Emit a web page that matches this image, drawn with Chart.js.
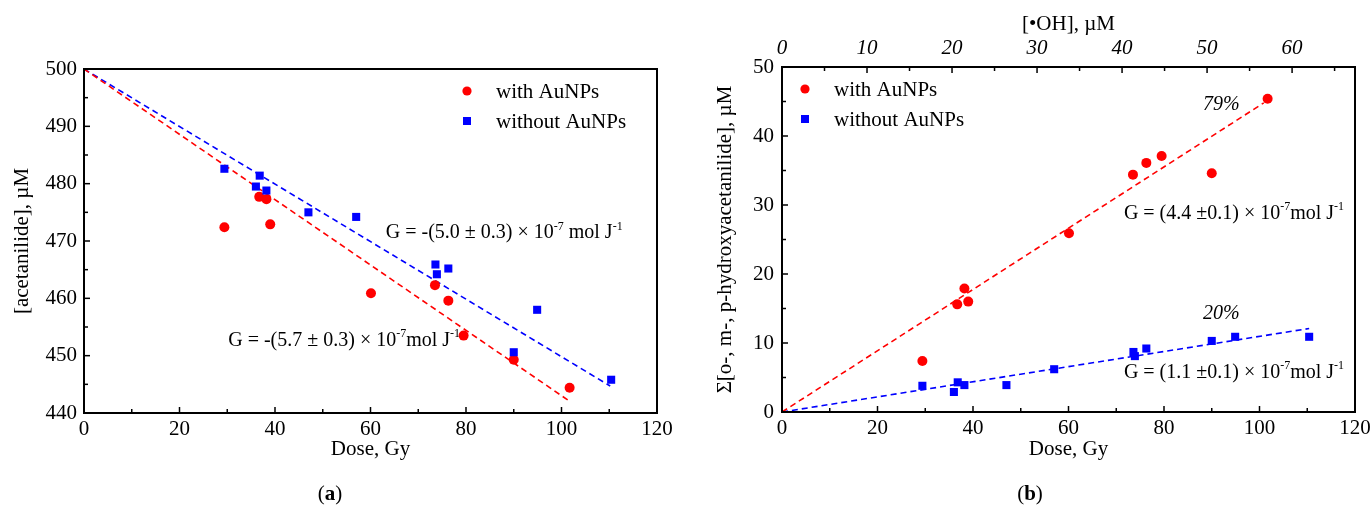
<!DOCTYPE html>
<html><head><meta charset="utf-8">
<script src="https://cdn.jsdelivr.net/npm/chart.js@4.4.1/dist/chart.umd.min.js"></script>
<style>
html,body{margin:0;padding:0;background:#fff}
body{width:1370px;height:514px;position:relative;overflow:hidden}
#ca{position:absolute;left:0;top:0}
#cb{position:absolute;left:690px;top:0}
.cap{position:absolute;top:481px;width:100px;text-align:center;font:21px 'Liberation Serif',serif;color:#000}
</style></head>
<body>
<canvas id="ca" width="690" height="514"></canvas>
<canvas id="cb" width="700" height="514"></canvas>
<div class="cap" style="left:280px">(<b>a</b>)</div>
<div class="cap" style="left:980px">(<b>b</b>)</div>
<script>
// ---------------- data ----------------
const doseWith    = [29.4, 36.7, 38.2, 39.0, 60.1, 73.5, 76.3, 79.5, 90.0, 101.7];
const acetWith    = [472.4, 477.7, 477.3, 472.9, 460.9, 462.3, 459.6, 453.5, 449.3, 444.4];
const hydrWith    = [7.4, 15.6, 17.9, 16.0, 25.9, 34.4, 36.1, 37.1, 34.6, 45.4];

const doseWithout = [29.4, 36.0, 36.8, 38.2, 47.0, 57.0, 73.6, 73.9, 76.3, 90.0, 94.9, 110.4];
const acetWithout = [482.6, 479.5, 481.4, 478.8, 475.0, 474.2, 465.9, 464.2, 465.2, 450.6, 458.0, 445.8];
const hydrWithout = [3.8, 2.9, 4.3, 3.9, 3.9, 6.2, 8.7, 8.1, 9.2, 10.3, 10.9, 10.9];

// linear fits (end points)
const fitDoseWithA    = [0, 101.8];
const fitAcetWith     = [500, 442.0];
const fitDoseWithoutA = [0, 110.2];
const fitAcetWithout  = [500, 444.7];
const fitDoseWithB    = [0, 100.9];
const fitHydrWith     = [0, 44.8];
const fitDoseWithoutB = [0, 110.4];
const fitHydrWithout  = [0, 12.1];

// axes
const doseRange = [0, 120];
const acetRange = [440, 500];
const hydrRange = [0, 50];
const ohRange   = [0, 67.4];   // [•OH] µM corresponding to 0..120 Gy
const ohTicks   = [0, 10, 20, 30, 40, 50, 60];
const ohTickStep = 10;

const labelWith = 'with AuNPs';
const labelWithout = 'without AuNPs';

const annA = [
  {x: 63.2, y: 471.6, parts: [['G = -(5.0 \u00b1 0.3) \u00d7 10'], ['-7', 1], [' mol J'], ['-1', 1]]},
  {x: 30.2, y: 452.9, parts: [['G = -(5.7 \u00b1 0.3) \u00d7 10'], ['-7', 1], ['mol J'], ['-1', 1]]}
];
const annB = [
  {x: 71.6, y: 29.0, parts: [['G = (4.4 \u00b10.1) \u00d7 10'], ['-7', 1], ['mol J'], ['-1', 1]]},
  {x: 71.6, y: 5.9,  parts: [['G = (1.1 \u00b10.1) \u00d7 10'], ['-7', 1], ['mol J'], ['-1', 1]]},
  {x: 92.0, y: 44.7, parts: [['79%']], italic: true, center: true},
  {x: 92.0, y: 14.4, parts: [['20%']], italic: true, center: true}
];

// ---------------- helpers ----------------
const FAM = "'Liberation Serif', serif";
const RED = '#ff0000', BLUE = '#0000ff';
Chart.defaults.font.family = FAM;
Chart.defaults.font.size = 21;
Chart.defaults.color = '#000';

const pts = (xs, ys) => xs.map((x, i) => ({x, y: ys[i]}));
const isMultiple = (v, step) => Math.abs(v / step - Math.round(v / step)) < 1e-6;

function richText(ctx, x, yc, parts, size, italic, center) {
  const st = italic ? 'italic ' : '';
  let w = 0;
  parts.forEach(p => {
    ctx.font = st + (p[1] ? Math.round(size * 0.62) : size) + 'px ' + FAM;
    w += ctx.measureText(p[0]).width;
  });
  let cx = center ? x - w / 2 : x;
  const base = yc + size * 0.33;
  ctx.textAlign = 'left';
  ctx.textBaseline = 'alphabetic';
  ctx.fillStyle = '#000';
  parts.forEach(p => {
    ctx.font = st + (p[1] ? Math.round(size * 0.62) : size) + 'px ' + FAM;
    ctx.fillText(p[0], cx, p[1] ? base - size * 0.42 : base);
    cx += ctx.measureText(p[0]).width;
  });
}

const framePlugin = {
  id: 'frame',
  afterDraw(chart, args, opts) {
    const ctx = chart.ctx, a = chart.chartArea;
    ctx.save();
    ctx.strokeStyle = '#000';
    ctx.lineWidth = 2;
    ctx.strokeRect(a.left, a.top, a.right - a.left, a.bottom - a.top);
    ctx.lineWidth = 1.5;
    (opts.tickAxes || []).forEach(id => {
      const s = chart.scales[id];
      const step = s.options.ticks.stepSize;
      for (let i = 1; s.min + i * step / 2 < s.max - 1e-9; i++) {
        const v = s.min + i * step / 2;
        const len = isMultiple(v, step) ? 6 : 4;
        const p = s.getPixelForValue(v);
        ctx.beginPath();
        if (s.position === 'bottom') { ctx.moveTo(p, a.bottom); ctx.lineTo(p, a.bottom - len); }
        else if (s.position === 'top') { ctx.moveTo(p, a.top); ctx.lineTo(p, a.top + len); }
        else { ctx.moveTo(a.left, p); ctx.lineTo(a.left + len, p); }
        ctx.stroke();
      }
    });
    // annotations
    const xs = chart.scales.x, ys = chart.scales.y;
    (opts.ann || []).forEach(an => {
      richText(ctx, xs.getPixelForValue(an.x), ys.getPixelForValue(an.y), an.parts, 20, an.italic, an.center);
    });
    // legend
    const lg = opts.legend;
    if (lg) {
      const mx = a.left + lg.dx, my = a.top + lg.dy;
      chart.data.datasets.filter(d => d.legend).forEach((d, i) => {
        const y = my + i * 30;
        ctx.fillStyle = d.backgroundColor;
        if (d.pointStyle === 'rect') ctx.fillRect(mx - 4, y - 4, 8, 8);
        else { ctx.beginPath(); ctx.arc(mx, y, 4.6, 0, Math.PI * 2); ctx.fill(); }
        ctx.fillStyle = '#000';
        ctx.font = '21px ' + FAM;
        ctx.textAlign = 'left';
        ctx.textBaseline = 'alphabetic';
        ctx.fillText(d.label, mx + 29, y + 7);
      });
    }
    ctx.restore();
  }
};

function pointSet(label, data, color, style, order) {
  return {label, data, legend: true, backgroundColor: color, borderColor: color, borderWidth: 0,
    pointStyle: style, pointRadius: style === 'rect' ? 5.7 : 5, pointHoverRadius: 5, order, showLine: false};
}
function fitSet(data, color) {
  return {data, borderColor: color, backgroundColor: color, borderWidth: 1.6, borderDash: [6, 4],
    pointRadius: 0, showLine: true, order: 3};
}
function baseAxis(extra) {
  return Object.assign({
    type: 'linear',
    grid: {display: false, drawTicks: false},
    border: {display: false},
  }, extra);
}

// ---------------- chart (a) ----------------
new Chart(document.getElementById('ca'), {
  type: 'scatter',
  data: {datasets: [
    pointSet(labelWith, pts(doseWith, acetWith), RED, 'circle', 2),
    pointSet(labelWithout, pts(doseWithout, acetWithout), BLUE, 'rect', 1),
    fitSet(pts(fitDoseWithA, fitAcetWith), RED),
    fitSet(pts(fitDoseWithoutA, fitAcetWithout), BLUE)
  ]},
  options: {
    responsive: false, animation: false,
    layout: {padding: {left: 0, right: 33, top: 69, bottom: 0}},
    plugins: {legend: {display: false}, tooltip: {enabled: false},
      frame: {tickAxes: ['x', 'y'], ann: annA, legend: {dx: 383, dy: 22}}},
    scales: {
      x: baseAxis({position: 'bottom', min: doseRange[0], max: doseRange[1],
        ticks: {stepSize: 20, padding: 4, maxRotation: 0},
        title: {display: true, text: 'Dose, Gy', padding: {top: 0, bottom: 52}},
        afterFit(s) { s.height = 101; }}),
      y: baseAxis({position: 'left', min: acetRange[0], max: acetRange[1],
        ticks: {stepSize: 10, padding: 7},
        title: {display: true, text: '[acetanilide], \u00b5M', padding: {top: 10, bottom: 0}},
        afterFit(s) { s.width = 84; }})
    }
  },
  plugins: [framePlugin]
});

// ---------------- chart (b) ----------------
new Chart(document.getElementById('cb'), {
  type: 'scatter',
  data: {datasets: [
    pointSet(labelWith, pts(doseWith, hydrWith), RED, 'circle', 2),
    pointSet(labelWithout, pts(doseWithout, hydrWithout), BLUE, 'rect', 1),
    fitSet(pts(fitDoseWithB, fitHydrWith), RED),
    fitSet(pts(fitDoseWithoutB, fitHydrWithout), BLUE)
  ]},
  options: {
    responsive: false, animation: false,
    layout: {padding: {left: 0, right: 35, top: 0, bottom: 0}},
    plugins: {legend: {display: false}, tooltip: {enabled: false},
      frame: {tickAxes: ['x', 'y', 'x2'], ann: annB, legend: {dx: 23, dy: 22}}},
    scales: {
      x: baseAxis({position: 'bottom', min: doseRange[0], max: doseRange[1],
        ticks: {stepSize: 20, padding: 4, maxRotation: 0},
        title: {display: true, text: 'Dose, Gy', padding: {top: 0, bottom: 52}},
        afterFit(s) { s.height = 102; }}),
      x2: baseAxis({position: 'top', display: true, min: ohRange[0], max: ohRange[1],
        ticks: {stepSize: ohTickStep, includeBounds: false, padding: 6, maxRotation: 0, autoSkip: false,
                font: {style: 'italic', size: 21}},
        afterBuildTicks(s) { s.ticks = ohTicks.map(v => ({value: v})); },
        title: {display: true, text: '[\u2022OH], \u00b5M', padding: {top: 12, bottom: 0}},
        afterFit(s) { s.height = 67; }}),
      y: baseAxis({position: 'left', min: hydrRange[0], max: hydrRange[1],
        ticks: {stepSize: 10, padding: 8},
        title: {display: true, text: '\u03a3[o-, m-, p-hydroxyacetanilide], \u00b5M', padding: {top: 23, bottom: 0}},
        afterFit(s) { s.width = 92; }})
    }
  },
  plugins: [framePlugin]
});
</script>
</body></html>
